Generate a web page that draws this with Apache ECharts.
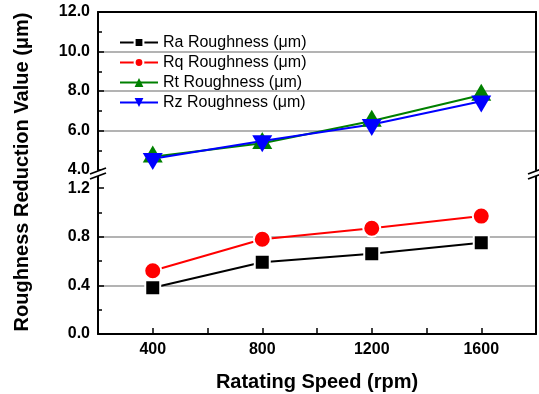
<!DOCTYPE html>
<html><head><meta charset="utf-8">
<script src="https://cdn.jsdelivr.net/npm/echarts@6/dist/echarts.min.js"></script>
<style>html,body{margin:0;padding:0;background:#fff}#c{width:539px;height:394px}</style>
</head><body><div id="c"></div>
<script>
const speeds = [400, 800, 1200, 1600];
const raValues = [0.38, 0.59, 0.66, 0.75];
const rqValues = [0.52, 0.78, 0.87, 0.97];
const rtValues = [4.67, 5.35, 6.48, 7.8];
const rzValues = [4.57, 5.47, 6.3, 7.48];
const seriesNames = ['Ra Roughness (μm)', 'Rq Roughness (μm)', 'Rt Roughness (μm)', 'Rz Roughness (μm)'];
const xTickLabels = [400, 800, 1200, 1600];
const upperTicks = [4, 6, 8, 10, 12];
const lowerTicks = [0, 0.4, 0.8, 1.2];
const xTitle = 'Ratating Speed (rpm)';
const yTitle = 'Roughness Reduction Value (μm)';

const FONT = "'Liberation Sans', Arial, sans-serif";
const pair = (xs, ys) => xs.map((x, i) => [x, ys[i]]);
const axisLine = { show: true, onZero: false, lineStyle: { color: '#000', width: 2 } };
const gridLine = { show: true, showMinLine: false, showMaxLine: false, lineStyle: { color: '#9a9a9a', width: 1.5 } };
const boldLabel = { color: '#000', fontSize: 16, fontWeight: 'bold', fontFamily: FONT };

const chart = echarts.init(document.getElementById('c'), null, { renderer: 'canvas' });

const breakMarks = [];
[98, 536].forEach(cx => {
  breakMarks.push({ type: 'polygon', shape: { points: [[cx - 8, 174], [cx + 8, 168], [cx + 8, 173], [cx - 8, 179]] }, style: { fill: '#fff' }, z: 100 });
  breakMarks.push({ type: 'line', shape: { x1: cx - 8, y1: 174, x2: cx + 8, y2: 168 }, style: { stroke: '#000', lineWidth: 1.8 }, z: 101 });
  breakMarks.push({ type: 'line', shape: { x1: cx - 8, y1: 179, x2: cx + 8, y2: 173 }, style: { stroke: '#000', lineWidth: 1.8 }, z: 101 });
});

chart.setOption({
  animation: false,
  backgroundColor: '#fff',
  grid: [
    { left: 98, right: 3, top: 12, height: 158 },
    { left: 98, right: 3, top: 176, height: 158 }
  ],
  xAxis: [
    { type: 'value', gridIndex: 0, min: 200, max: 1800, interval: 200, position: 'top',
      axisLine: axisLine, axisTick: { show: false }, axisLabel: { show: false }, splitLine: { show: false } },
    { type: 'value', gridIndex: 1, min: 200, max: 1800, interval: 200, position: 'bottom',
      axisLine: axisLine,
      axisTick: { show: true, inside: true, length: 6, lineStyle: { color: '#000', width: 1.5 } },
      axisLabel: Object.assign({ margin: 8, customValues: xTickLabels, formatter: v => String(v) }, boldLabel),
      splitLine: { show: false },
      name: xTitle, nameLocation: 'middle', nameGap: 38,
      nameTextStyle: { color: '#000', fontSize: 20, fontWeight: 'bold', fontFamily: FONT } }
  ],
  yAxis: [
    { type: 'value', gridIndex: 0, min: 4, max: 12, interval: 2,
      axisLine: axisLine,
      axisTick: { show: true, inside: true, length: 6, lineStyle: { color: '#000', width: 1.5 } },
      minorTick: { show: true, splitNumber: 2, length: 4, lineStyle: { color: '#000', width: 1.5 } },
      axisLabel: Object.assign({ margin: 8, customValues: upperTicks, formatter: v => v.toFixed(1) }, boldLabel),
      splitLine: gridLine },
    { type: 'value', gridIndex: 0, min: 4, max: 12, position: 'right',
      axisLine: axisLine, axisTick: { show: false }, axisLabel: { show: false }, splitLine: { show: false } },
    { type: 'value', gridIndex: 1, min: 0, max: 1.3, interval: 0.4,
      axisLine: axisLine,
      axisTick: { show: true, inside: true, length: 6, customValues: lowerTicks, lineStyle: { color: '#000', width: 1.5 } },
      minorTick: { show: true, splitNumber: 2, length: 4, lineStyle: { color: '#000', width: 1.5 } },
      axisLabel: Object.assign({ margin: 8, customValues: lowerTicks, formatter: v => v.toFixed(1) }, boldLabel),
      splitLine: gridLine },
    { type: 'value', gridIndex: 1, min: 0, max: 1.3, position: 'right',
      axisLine: axisLine, axisTick: { show: false }, axisLabel: { show: false }, splitLine: { show: false } }
  ],
  legend: {
    data: seriesNames, orient: 'vertical', left: 114, top: 29,
    itemWidth: 38, itemHeight: 11, itemGap: 3,
    textStyle: { color: '#000', fontSize: 16, fontFamily: FONT, lineHeight: 17 }
  },
  graphic: breakMarks.concat([
    { type: 'text', x: 22, y: 172, rotation: Math.PI / 2,
      style: { text: yTitle, fill: '#000', font: 'bold 20px ' + FONT, align: 'center', verticalAlign: 'middle' } }
  ]),
  series: [
    { name: seriesNames[0], type: 'line', xAxisIndex: 1, yAxisIndex: 2, data: pair(speeds, raValues),
      symbol: 'rect', symbolSize: 15, color: '#000',
      lineStyle: { width: 2, color: '#000' }, itemStyle: { color: '#000', borderColor: '#fff', borderWidth: 2 } },
    { name: seriesNames[1], type: 'line', xAxisIndex: 1, yAxisIndex: 2, data: pair(speeds, rqValues),
      symbol: 'circle', symbolSize: 17, color: '#ff0000',
      lineStyle: { width: 2, color: '#ff0000' }, itemStyle: { color: '#ff0000', borderColor: '#fff', borderWidth: 2 } },
    { name: seriesNames[2], type: 'line', xAxisIndex: 0, yAxisIndex: 0, data: pair(speeds, rtValues),
      symbol: 'triangle', symbolSize: [20, 17], symbolOffset: [0, -2.8], color: '#008000',
      lineStyle: { width: 2, color: '#008000' }, itemStyle: { color: '#008000' } },
    { name: seriesNames[3], type: 'line', xAxisIndex: 0, yAxisIndex: 0, data: pair(speeds, rzValues),
      symbol: 'triangle', symbolRotate: 180, symbolSize: [20, 17], symbolOffset: [0, 2.8], color: '#0000ff',
      lineStyle: { width: 2, color: '#0000ff' }, itemStyle: { color: '#0000ff' } }
  ]
});
</script>
</body></html>
